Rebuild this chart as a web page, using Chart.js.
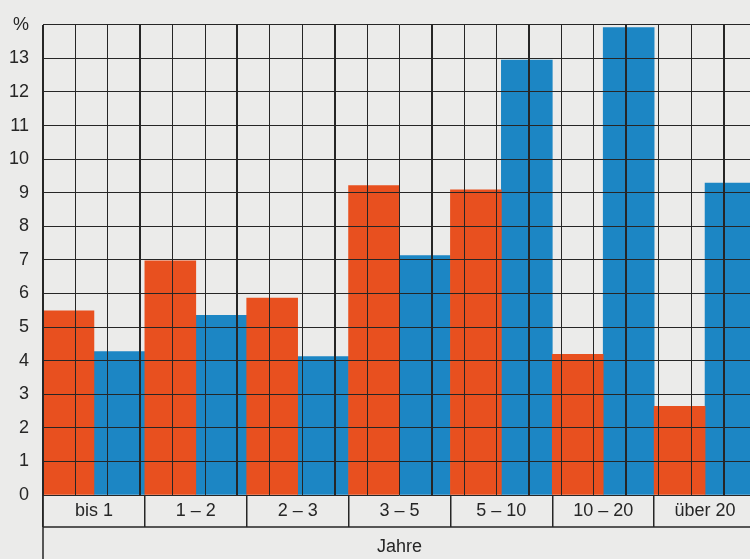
<!DOCTYPE html>
<html lang="de">
<head>
<meta charset="utf-8">
<title>Jahre</title>
<script src="https://cdn.jsdelivr.net/npm/chart.js@4/dist/chart.umd.min.js"></script>
<style>
  html, body { margin: 0; padding: 0; background: #ebebea; overflow: hidden; }
  #wrap { width: 750px; height: 559px; overflow: hidden; }
  canvas { display: block; }
</style>
</head>
<body>
<div id="wrap"><canvas id="myChart" width="760" height="559"></canvas></div>
<script>
// Kategorien (Jahre) und die beiden Reihen in %
const categories = ['bis 1', '1 – 2', '2 – 3', '3 – 5', '5 – 10', '10 – 20', 'über 20'];
const redValues = [5.48, 6.97, 5.86, 9.21, 9.09, 4.19, 2.64];
const blueValues = [4.27, 5.35, 4.12, 7.13, 12.95, 13.92, 9.29];
const yTicks = [0, 1, 2, 3, 4, 5, 6, 7, 8, 9, 10, 11, 12, 13, 14];

const RED = '#e8501f';
const BLUE = '#1c86c4';
const INK = '#262626';
const FONT = { family: '"Liberation Sans", Arial, sans-serif', size: 18 };

// Rahmenlinien unter der Grafik (Beschriftungszeile und linke Kante)
const frame = {
    id: 'frame',
    afterDraw(chart) {
        const { ctx, chartArea } = chart;
        const x = chart.scales.x;
        ctx.save();
        ctx.strokeStyle = INK;
        ctx.lineWidth = 1.5;
        ctx.beginPath();
        ctx.moveTo(chartArea.left, x.top + 32);
        ctx.lineTo(chartArea.right, x.top + 32);
        ctx.moveTo(chartArea.left, chartArea.bottom);
        ctx.lineTo(chartArea.left, chart.height);
        ctx.stroke();
        ctx.restore();
    }
};

const ctx = document.getElementById('myChart');

new Chart(ctx, {
    type: 'bar',
    data: {
        labels: categories,
        datasets: [
            { data: redValues, backgroundColor: RED },
            { data: blueValues, backgroundColor: BLUE }
        ]
    },
    options: {
        responsive: false,
        animation: false,
        layout: { padding: { top: 22, right: 4, left: 0, bottom: 0 } },
        datasets: {
            bar: { barPercentage: 1, categoryPercentage: 1, borderWidth: 0 }
        },
        plugins: {
            legend: { display: false },
            tooltip: { enabled: false }
        },
        scales: {
            x: {
                type: 'category',
                position: 'bottom',
                afterFit: s => { s.height = 64; },
                border: { display: false },
                grid: {
                    offset: true,
                    drawOnChartArea: false,
                    drawTicks: true,
                    tickLength: 32,
                    color: INK,
                    lineWidth: 1.5
                },
                ticks: { color: INK, font: FONT, padding: -27, maxRotation: 0, autoSkip: false },
                title: { display: true, text: 'Jahre', color: INK, font: FONT, padding: { top: 0, bottom: 1 } }
            },
            // feines Raster: drei Spalten je Kategorie, Kategoriegrenzen kräftiger
            x2: {
                type: 'linear',
                position: 'top',
                min: 0,
                max: 21,
                afterFit: s => { s.height = 0; },
                border: { display: false },
                ticks: { display: false, stepSize: 1 },
                grid: {
                    z: 1,
                    drawTicks: false,
                    color: INK,
                    lineWidth: c => (c.tick && c.tick.value % 3 === 0 ? 2 : 1)
                }
            },
            y: {
                min: 0,
                max: 14,
                afterFit: s => { s.width = 43; },
                afterBuildTicks: s => { s.ticks = yTicks.map(v => ({ value: v })); },
                border: { display: false },
                grid: { z: 1, drawTicks: false, color: INK, lineWidth: 1 },
                ticks: {
                    color: INK,
                    font: FONT,
                    padding: 14,
                    callback: v => (v === 14 ? '%' : v)
                }
            }
        }
    },
    plugins: [frame]
});
</script>
</body>
</html>
